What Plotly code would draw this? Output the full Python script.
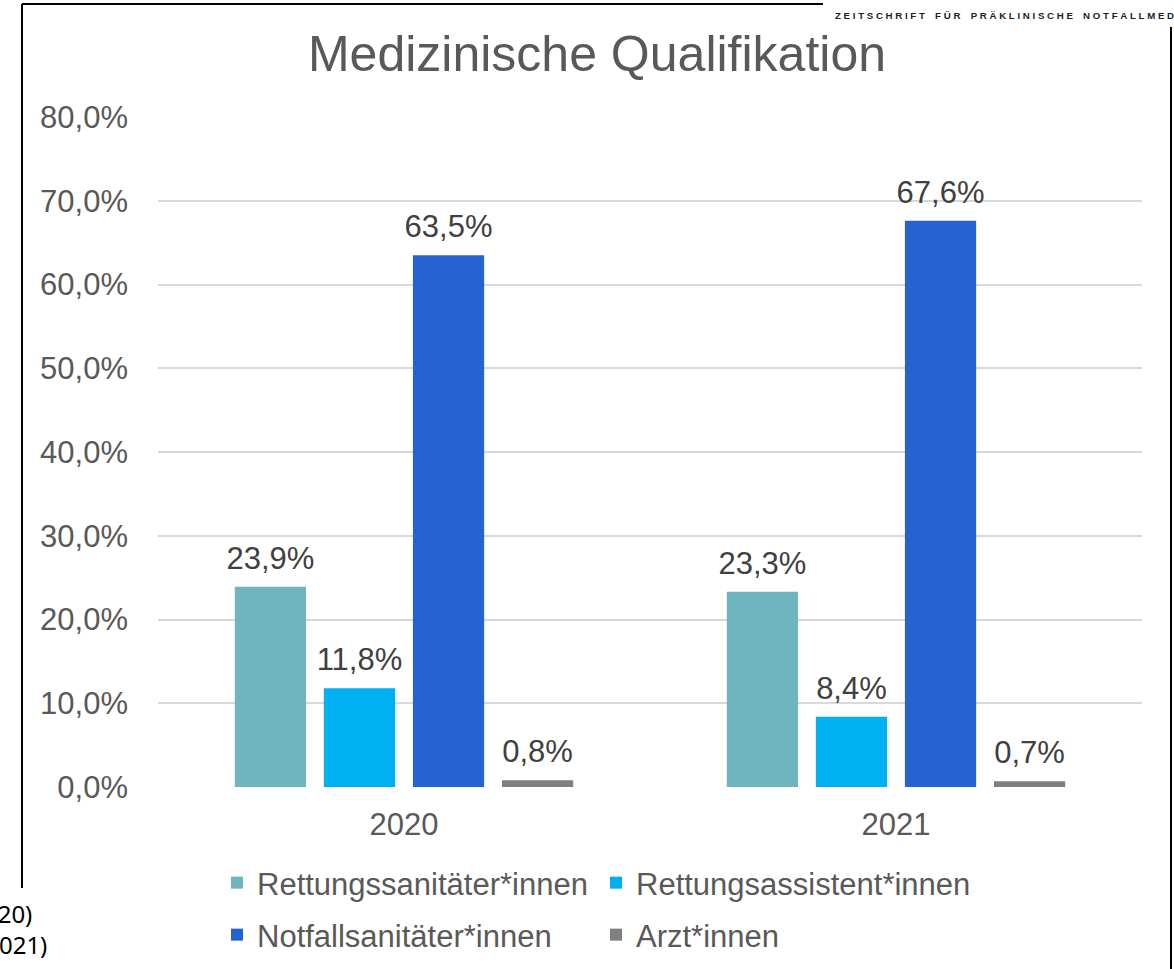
import plotly.graph_objects as go

years = ["2020", "2021"]
series_names = ["Rettungssanitäter*innen", "Rettungsassistent*innen",
                "Notfallsanitäter*innen", "Arzt*innen"]
values = {
    "Rettungssanitäter*innen": [23.9, 23.3],
    "Rettungsassistent*innen": [11.8, 8.4],
    "Notfallsanitäter*innen": [63.5, 67.6],
    "Arzt*innen": [0.8, 0.7],
}
colors = ["#6FB5BF", "#00B0F0", "#2563D1", "#7F7F7F"]
legend_ids = ["legend", "legend", "legend2", "legend2"]
y_ticks = [0, 10, 20, 30, 40, 50, 60, 70, 80]
y_tick_labels = [f"{v},0%" for v in y_ticks]

W, H = 1174, 969
L, R, T, B = 158, 32, 117, 182
PW, PH = W - L - R, H - T - B

def px(x):
    return (x - L) / PW

def py(y):
    return (H - B - y) / PH

FONT = "Liberation Sans, Arial, sans-serif"
FS = 31
BARGAP = 0.276

fig = go.Figure()
for name, col, lg in zip(series_names, colors, legend_ids):
    vals = values[name]
    fig.add_trace(go.Bar(
        x=years, y=vals, name=name, marker=dict(color=col, line=dict(width=0)),
        legend=lg, hoverinfo="x+y+name",
    ))
# value labels, grouped at the same positions as the bars
for name in series_names:
    vals = values[name]
    fig.add_trace(go.Scatter(
        x=years, y=vals, mode="markers+text", showlegend=False,
        marker=dict(size=15, color="rgba(0,0,0,0)"),
        text=[f"{v:.1f}%".replace(".", ",") for v in vals],
        textposition="top center", cliponaxis=False, hoverinfo="skip",
        textfont=dict(size=FS, color="#404040", family=FONT),
    ))

leg_common = dict(orientation="h", xanchor="left", yanchor="top",
                  entrywidth=334, entrywidthmode="pixels", itemwidth=30,
                  font=dict(size=FS, color="#595959", family=FONT),
                  bgcolor="rgba(0,0,0,0)", traceorder="normal")

fig.update_layout(
    width=W, height=H, autosize=False,
    margin=dict(l=L, r=R, t=T, b=B, autoexpand=False),
    paper_bgcolor="white", plot_bgcolor="white",
    barmode="group", bargap=BARGAP, bargroupgap=0.2,
    scattermode="group", scattergap=BARGAP,
    font=dict(family=FONT, color="#595959", size=FS),
    title=dict(text="Medizinische Qualifikation", x=px(597), xref="paper",
               xanchor="center", y=1 - 53 / H, yanchor="middle",
               font=dict(size=50, color="#595959", family=FONT)),
    showlegend=True,
    legend=dict(x=px(217), y=py(856), **leg_common),
    legend2=dict(x=px(217), y=py(908), **leg_common),
    xaxis=dict(showgrid=False, showline=False, ticks="", ticklabelstandoff=16,
               automargin=False,
               tickfont=dict(size=FS, color="#595959", family=FONT)),
    yaxis=dict(range=[0, 80], tickvals=y_ticks, ticktext=y_tick_labels,
               showgrid=True, gridcolor="#D9D9D9", gridwidth=1.5,
               zeroline=False, showline=False, ticks="", ticklabelstandoff=29,
               automargin=False,
               tickfont=dict(size=FS, color="#595959", family=FONT)),
)

# frame lines (page decoration)
line = dict(color="black", width=2)
fig.add_shape(type="line", xref="paper", yref="paper",
              x0=px(22), x1=px(22), y0=py(4), y1=py(888), line=line)
fig.add_shape(type="line", xref="paper", yref="paper",
              x0=px(22), x1=px(823), y0=py(4), y1=py(4), line=line)
fig.add_shape(type="line", xref="paper", yref="paper",
              x0=px(1171), x1=px(1171), y0=py(27), y1=py(975), line=line)

nb = "\u00a0"
header = "ZEITSCHRIFT FÜR PRÄKLINISCHE NOTFALLMEDIZIN"
header_sp = nb.join(list(header)).replace(" ", "\u2002")
fig.add_annotation(text=header_sp, xref="paper", yref="paper",
                   x=px(833), y=py(16), xanchor="left", yanchor="middle",
                   showarrow=False,
                   font=dict(size=9.7, color="#231F20", family="Liberation Sans", weight="bold"))

fig.add_annotation(text="(2020)", xref="paper", yref="paper", x=px(34), y=py(914),
                   xanchor="right", yanchor="middle", showarrow=False,
                   font=dict(size=24, color="black", family="Noto Sans"))
fig.add_annotation(text="(2021)", xref="paper", yref="paper", x=px(49), y=py(944),
                   xanchor="right", yanchor="middle", showarrow=False,
                   font=dict(size=24, color="black", family="Noto Sans"))

fig.write_html("out.html",
               config={"displayModeBar": False, "responsive": False},
               post_script="document.body.style.margin='0';document.body.style.overflow='hidden';")
